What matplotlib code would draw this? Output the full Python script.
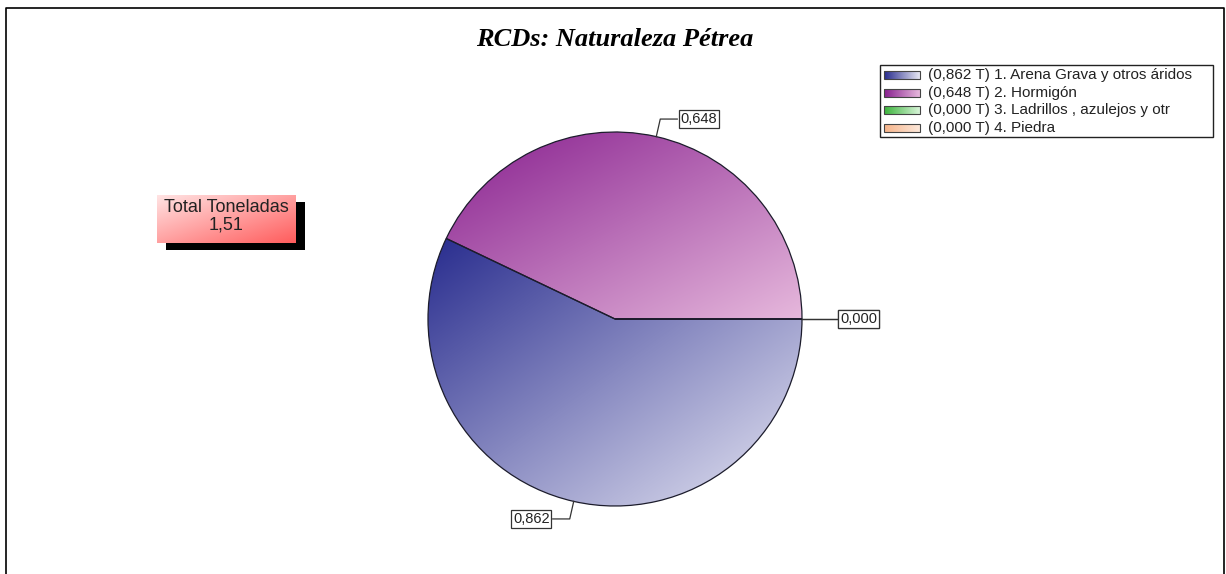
import matplotlib
matplotlib.use("Agg")
import matplotlib.pyplot as plt
import numpy as np
from matplotlib.patches import Rectangle
from matplotlib.colors import LinearSegmentedColormap

W, H = 1226, 574

categories = ["1. Arena Grava y otros áridos", "2. Hormigón",
              "3. Ladrillos , azulejos y otr", "4. Piedra"]
values = [0.862, 0.648, 0.000, 0.000]
dark_colors = ["#282c8e", "#88208f", "#3cb43c", "#f6b48a"]
light_colors = ["#e6e6f3", "#e6b8dc", "#d8f4d8", "#fde8da"]

title = "RCDs: Naturaleza Pétrea"
total_label = "Total Toneladas"


def comma(v, nd=3):
    return f"{v:.{nd}f}".replace(".", ",")


def gradient(n=256):
    u = np.linspace(0, 1, n)
    uu, vv = np.meshgrid(u, u)
    return (uu + vv) / 2


def fy(y):
    # pixel row (from top) -> data y
    return H - y


fig = plt.figure(figsize=(W / 100, H / 100), dpi=100)
ax = fig.add_axes([0, 0, 1, 1])

cx, cy, R = 615, fy(319), 187
wedges, _ = ax.pie(values, center=(cx, cy), radius=R, startangle=0,
                   counterclock=False,
                   wedgeprops=dict(edgecolor="#1c1c2c", linewidth=0.9))

# gradient fill of each slice
for w, v, c0, c1 in zip(wedges, values, dark_colors, light_colors):
    if v <= 0:
        continue
    w.set_facecolor("none")
    ext = w.get_path().get_extents()
    cmap = LinearSegmentedColormap.from_list("g", [c0, c1])
    im = ax.imshow(gradient(), cmap=cmap, origin="upper", aspect="auto",
                   extent=(ext.x0, ext.x1, ext.y0, ext.y1),
                   interpolation="bilinear", zorder=0.5)
    im.set_clip_path(w)

# value labels with leader lines
for w, v in zip(wedges, values):
    a = np.deg2rad((w.theta1 + w.theta2) / 2)
    x0, y0 = cx + R * np.cos(a), cy + R * np.sin(a)
    x1, y1 = cx + (R + 18) * np.cos(a), cy + (R + 18) * np.sin(a)
    side = 1 if np.cos(a) >= -1e-9 else -1
    x2 = x1 + side * 17
    ax.plot([x0, x1, x2], [y0, y1, y1], color="#333333", lw=0.9, zorder=3)
    ax.text(x2 + side * 3, y1, comma(v), ha="left" if side > 0 else "right",
            va="center", fontsize=10.5, family="Liberation Sans", color="#222222",
            bbox=dict(boxstyle="square,pad=0.12", fc="white", ec="#333333", lw=0.9),
            zorder=4)

# title
ax.text(615, fy(40), title, family="Liberation Serif", weight="bold",
        style="italic", fontsize=19, ha="center", va="center")

# legend
ax.add_patch(Rectangle((880, fy(137)), 333, 72, fc="white", ec="#222222",
                       lw=1.0, zorder=2))
row_y = [75, 93, 110, 128]
for cat, v, c0, c1, ry in zip(categories, values, dark_colors, light_colors, row_y):
    cmap = LinearSegmentedColormap.from_list("g", [c0, c1])
    ax.imshow(np.linspace(0, 1, 64)[None, :], cmap=cmap, aspect="auto",
              extent=(884, 920, fy(ry) - 4, fy(ry) + 4), zorder=3)
    ax.add_patch(Rectangle((884, fy(ry) - 4), 36, 8, fc="none",
                           ec="#444444", lw=0.8, zorder=3.5))
    ax.text(928, fy(ry), f"({comma(v)} T) {cat}", fontsize=11,
            family="Liberation Sans", color="#222222", va="center", zorder=4)

# total box
total = sum(values)
bx, by, bw, bh = 157, 243, 139, 48
ax.add_patch(Rectangle((bx + 9, fy(by + 7)), bw, bh, fc="black", ec="none", zorder=2))
cmap = LinearSegmentedColormap.from_list("t", ["#ffe4e4", "#ff5c5c"])
ax.imshow(gradient(), cmap=cmap, origin="upper", aspect="auto",
          extent=(bx, bx + bw, fy(by), fy(by) + bh), interpolation="bilinear",
          zorder=3)
ax.text(bx + bw / 2, fy(207), total_label, ha="center", va="center",
        fontsize=13, family="Liberation Sans", color="#222222", zorder=4)
ax.text(bx + bw / 2, fy(225), comma(total, 2), ha="center", va="center",
        fontsize=13, family="Liberation Sans", color="#222222", zorder=4)

# outer frame
ax.plot([6, 6, 1224, 1224], [0, fy(8), fy(8), 0], color="black", lw=1.2,
        clip_on=False, zorder=5)

ax.set_xlim(0, W)
ax.set_ylim(0, H)
ax.set_aspect("equal")
ax.axis("off")

fig.savefig("out.png", dpi=100)
